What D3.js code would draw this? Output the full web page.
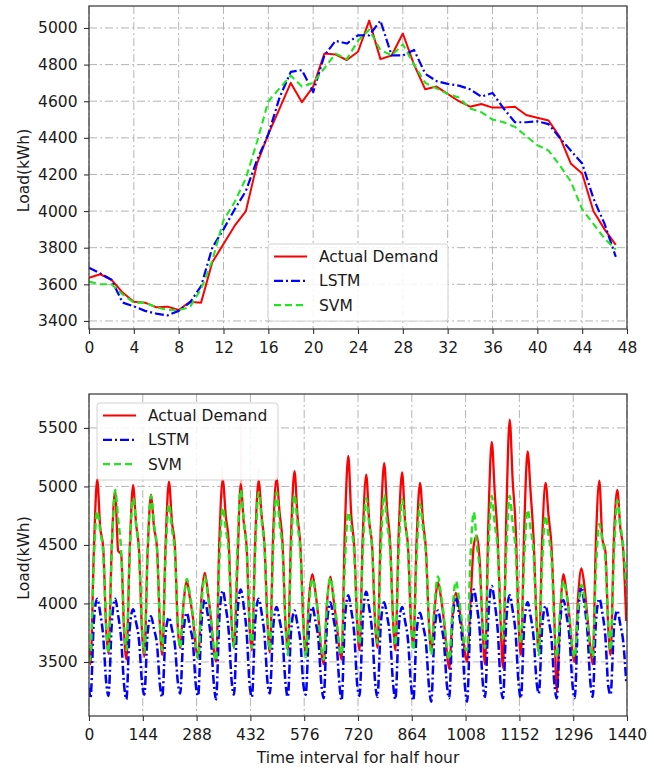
<!DOCTYPE html>
<html>
<head>
<meta charset="utf-8">
<script src="https://cdn.jsdelivr.net/npm/d3@7"></script>
<style>
  body { margin: 0; background: #fff; }
  svg { font-family: "DejaVu Sans", sans-serif; }
</style>
</head>
<body>
<svg id="chart" width="654" height="768"></svg>
<script>
// ---- top panel: one day, 48 half-hour values ----
const dayActual = [3635, 3655, 3625, 3555, 3505, 3500, 3475, 3478, 3460, 3505, 3500, 3720,
  3820, 3920, 4000, 4260, 4420, 4560, 4700, 4595, 4680, 4860, 4855, 4825,
  4870, 5040, 4830, 4850, 4970, 4800, 4665, 4680, 4640, 4600, 4570, 4585,
  4565, 4565, 4570, 4525, 4510, 4495, 4405, 4258, 4205, 4000, 3900, 3815];
const dayLSTM = [3690, 3660, 3625, 3500, 3480, 3455, 3440, 3430, 3455, 3500, 3590, 3800,
  3900, 4010, 4110, 4280, 4420, 4620, 4760, 4770, 4650, 4850, 4930, 4915,
  4960, 4960, 5040, 4850, 4850, 4880, 4750, 4710, 4695, 4685, 4665, 4625,
  4645, 4560, 4485, 4485, 4490, 4475, 4400, 4330, 4260, 4070, 3930, 3750];
const daySVM = [3615, 3600, 3600, 3545, 3500, 3500, 3475, 3460, 3460, 3475, 3575, 3730,
  3950, 4050, 4180, 4380, 4600, 4670, 4740, 4680, 4700, 4780, 4860, 4830,
  4930, 4990, 4880, 4850, 4910, 4800, 4700, 4670, 4640, 4620, 4560, 4540,
  4500, 4485, 4460, 4410, 4360, 4330, 4250, 4160, 4010, 3930, 3850, 3790];

// ---- bottom panel: 30 days, key values at these half-hour offsets in each day ----
const keyOffsets = [4, 13, 22, 30, 38, 46];
const startValues = [3620, 3280, 3500]; // value at interval 0: actual, LSTM, SVM

const monthActual = [
  [3480, 4450, 5060, 4650, 4480, 3780], [3570, 4500, 4960, 4450, 4420, 3750],
  [3520, 4450, 5010, 4680, 4450, 3750], [3545, 4450, 4930, 4650, 4480, 3800],
  [3560, 4500, 5040, 4700, 4480, 3780], [3620, 4000, 4190, 4050, 3880, 3620],
  [3530, 4050, 4260, 4100, 3880, 3600], [3500, 4550, 5060, 4750, 4520, 3820],
  [3620, 4300, 5020, 4700, 4480, 3780], [3600, 4550, 5050, 4750, 4480, 3820],
  [3580, 4600, 5070, 4780, 4520, 3820], [3600, 4600, 5130, 4750, 4480, 3820],
  [3560, 4050, 4250, 4100, 3880, 3580], [3480, 4000, 4230, 4050, 3850, 3620],
  [3520, 4650, 5260, 4750, 4480, 3820], [3600, 4600, 5100, 4700, 4480, 3820],
  [3620, 4650, 5200, 4800, 4520, 3850], [3600, 4600, 5120, 4700, 4480, 3820],
  [3640, 4550, 5030, 4700, 4450, 3820], [3600, 3950, 4180, 4050, 3850, 3580],
  [3440, 3900, 4090, 3980, 3800, 3580], [3500, 4000, 4500, 4580, 4350, 3750],
  [3480, 4700, 5380, 4950, 4550, 3820], [3450, 4750, 5570, 5050, 4650, 3820],
  [3560, 4650, 5300, 4950, 4550, 3850], [3580, 4550, 5030, 4750, 4480, 3820],
  [3250, 3900, 4250, 4100, 3880, 3580], [3500, 4050, 4300, 4150, 3880, 3620],
  [3480, 4550, 5050, 4550, 4450, 3780], [3560, 4550, 4970, 4650, 4450, 3850]
];
const monthLSTM = [
  [3190, 3850, 4040, 3920, 3720, 3330], [3210, 3830, 4040, 3900, 3700, 3300],
  [3180, 3790, 3950, 3840, 3680, 3320], [3220, 3750, 3890, 3780, 3650, 3300],
  [3200, 3740, 3880, 3780, 3640, 3320], [3230, 3760, 3920, 3800, 3670, 3300],
  [3210, 3830, 4030, 3900, 3710, 3320], [3180, 3880, 4110, 3970, 3760, 3330],
  [3220, 3900, 4120, 3980, 3750, 3300], [3200, 3850, 4040, 3920, 3720, 3320],
  [3230, 3800, 3970, 3860, 3690, 3320], [3200, 3770, 3940, 3820, 3670, 3300],
  [3220, 3790, 3970, 3850, 3690, 3310], [3190, 3820, 4010, 3880, 3700, 3320],
  [3170, 3870, 4070, 3940, 3740, 3300], [3210, 3880, 4100, 3960, 3750, 3320],
  [3200, 3820, 4010, 3890, 3710, 3310], [3180, 3790, 3970, 3850, 3680, 3300],
  [3170, 3760, 3920, 3810, 3660, 3290], [3160, 3770, 3940, 3820, 3670, 3300],
  [3190, 3850, 4050, 3920, 3720, 3300], [3160, 3880, 4120, 3980, 3760, 3320],
  [3200, 3900, 4150, 4000, 3770, 3300], [3190, 3860, 4070, 3940, 3740, 3310],
  [3190, 3820, 4010, 3890, 3710, 3330], [3230, 3800, 3980, 3860, 3690, 3300],
  [3190, 3830, 4030, 3900, 3710, 3310], [3190, 3880, 4140, 3990, 3760, 3320],
  [3200, 3850, 4040, 3920, 3720, 3290], [3220, 3780, 3940, 3820, 3670, 3330]
];
const monthSVM = [
  [3550, 4380, 4790, 4620, 4420, 3820], [3580, 4450, 4970, 4720, 4450, 3820],
  [3600, 4450, 4900, 4680, 4420, 3800], [3580, 4450, 4920, 4680, 4450, 3820],
  [3600, 4400, 4850, 4640, 4420, 3800], [3620, 4000, 4210, 4080, 3900, 3660],
  [3530, 4000, 4230, 4080, 3880, 3620], [3510, 4350, 4820, 4640, 4420, 3820],
  [3620, 4450, 4970, 4720, 4450, 3820], [3620, 4450, 4950, 4720, 4450, 3820],
  [3600, 4450, 4950, 4680, 4450, 3820], [3560, 4450, 4930, 4680, 4420, 3800],
  [3540, 4000, 4210, 4080, 3880, 3620], [3520, 4000, 4220, 4080, 3880, 3640],
  [3560, 4350, 4780, 4640, 4420, 3820], [3650, 4450, 4900, 4680, 4450, 3860],
  [3660, 4450, 4930, 4680, 4450, 3860], [3640, 4450, 4890, 4680, 4450, 3840],
  [3600, 4400, 4850, 4640, 4420, 3820], [3560, 4000, 4230, 4080, 3880, 3620],
  [3520, 3950, 4190, 4050, 3850, 3620], [3600, 4400, 4780, 4500, 4280, 3780],
  [3620, 4450, 4920, 4680, 4450, 3860], [3700, 4450, 4920, 4680, 4450, 3860],
  [3660, 4400, 4800, 4640, 4420, 3820], [3560, 4350, 4750, 4580, 4380, 3780],
  [3540, 3950, 4190, 4080, 3880, 3620], [3540, 3950, 4160, 4050, 3850, 3620],
  [3540, 4300, 4680, 4540, 4380, 3820], [3600, 4400, 4880, 4680, 4480, 4150]
];
// thin single-interval spikes of the actual demand: [interval, base, top]
const actualSpikes = [[356, 4900, 5170], [407, 4950, 5660], [454, 4950, 5170], [502, 5000, 5250]];

const seriesNames = ["Actual Demand", "LSTM", "SVM"];
const topTicksX = d3.range(0, 49, 4);
const topTicksY = d3.range(3400, 5001, 200);
const botTicksX = d3.range(0, 1441, 144);
const botTicksY = [3500, 4000, 4500, 5000, 5500];

const styles = [
  { color: "#ff0000", dash: null, width: 2 },
  { color: "#0000ff", dash: "9,3,2,3", width: 2.2 },
  { color: "#1fe61f", dash: "7,4", width: 2.1 },
];

const svg = d3.select("#chart");
svg.append("rect").attr("width", 654).attr("height", 768).attr("fill", "#fff");

function panel(cfg) {
  const x = d3.scaleLinear().domain(cfg.xDomain).range([89, 627]);
  const y = d3.scaleLinear().domain(cfg.yDomain).range([cfg.bottom, cfg.top]);
  const g = svg.append("g");

  // grid
  g.append("g").selectAll("line").data(cfg.ticksY).join("line")
    .attr("x1", 89).attr("x2", 627)
    .attr("y1", d => y(d)).attr("y2", d => y(d))
    .attr("stroke", "#b4b4b4").attr("stroke-width", 1).attr("stroke-dasharray", "8,3,2,3");
  g.append("g").selectAll("line").data(cfg.ticksX).join("line")
    .attr("y1", cfg.top).attr("y2", cfg.bottom)
    .attr("x1", d => x(d)).attr("x2", d => x(d))
    .attr("stroke", "#b4b4b4").attr("stroke-width", 1).attr("stroke-dasharray", "8,3,2,3");

  const clipId = "clip" + cfg.id;
  svg.append("clipPath").attr("id", clipId).append("rect")
    .attr("x", 89).attr("y", cfg.top).attr("width", 538).attr("height", cfg.bottom - cfg.top);

  const lines = g.append("g").attr("clip-path", `url(#${clipId})`);
  if (cfg.spikes) {
    lines.selectAll(".spike").data(cfg.spikes).join("path")
      .attr("class", "spike")
      .attr("d", d => `M${x(d[0] - 1.5)},${y(d[1])}L${x(d[0])},${y(d[2])}L${x(d[0] + 1.5)},${y(d[1])}`)
      .attr("fill", "none").attr("stroke", "#ff0000").attr("stroke-opacity", 0.3).attr("stroke-width", 1.4);
  }
  const line = d3.line().x(d => x(d[0])).y(d => y(d[1])).curve(cfg.curve);
  cfg.series.forEach((pts, i) => {
    lines.append("path").datum(pts)
      .attr("d", line)
      .attr("fill", "none")
      .attr("stroke", styles[i].color)
      .attr("stroke-width", styles[i].width * cfg.lw)
      .attr("stroke-dasharray", styles[i].dash)
      .attr("stroke-linejoin", "round");
  });

  // axes
  const ax = g.append("g").attr("transform", `translate(0,${cfg.bottom})`)
    .call(d3.axisBottom(x).tickValues(cfg.ticksX).tickFormat(d3.format("d"))
      .tickSize(5).tickPadding(8).tickSizeOuter(0));
  const ay = g.append("g").attr("transform", "translate(89,0)")
    .call(d3.axisLeft(y).tickValues(cfg.ticksY).tickFormat(d3.format("d"))
      .tickSize(5).tickPadding(6.5).tickSizeOuter(0));
  [ax, ay].forEach(a => {
    a.select(".domain").remove();
    a.selectAll("line").attr("stroke", "#333").attr("stroke-width", 1.1);
    a.selectAll("text").attr("fill", "#1a1a1a").style("font-size", "15.5px")
      .style("font-family", "DejaVu Sans, sans-serif");
  });

  // frame
  g.append("rect").attr("x", 89).attr("y", cfg.top).attr("width", 538).attr("height", cfg.bottom - cfg.top)
    .attr("fill", "none").attr("stroke", "#333").attr("stroke-width", 1.2);

  // y label
  g.append("text")
    .attr("transform", `translate(28.5,${(cfg.top + cfg.bottom) / 2 + 3}) rotate(-90)`)
    .attr("text-anchor", "middle").style("font-size", "15.5px").attr("fill", "#1a1a1a")
    .text("Load(kWh)");

  // legend
  const lg = g.append("g").attr("transform", `translate(${cfg.legend[0]},${cfg.legend[1]})`);
  lg.append("rect").attr("x", 0).attr("y", 0).attr("width", cfg.legend[2]).attr("height", 77)
    .attr("rx", 3).attr("fill", "#fff").attr("fill-opacity", 0.85)
    .attr("stroke", "#d2d2d2").attr("stroke-width", 1);
  seriesNames.forEach((name, i) => {
    const cy = 12.5 + i * 24.3;
    lg.append("line").attr("x1", 6).attr("x2", 39).attr("y1", cy).attr("y2", cy)
      .attr("stroke", styles[i].color).attr("stroke-width", styles[i].width)
      .attr("stroke-dasharray", styles[i].dash);
    lg.append("text").attr("x", 51).attr("y", cy + 5.5)
      .style("font-size", "15.5px").attr("fill", "#1a1a1a").text(name);
  });
  return { x, y };
}

// top panel data
const topSeries = [dayActual, dayLSTM, daySVM].map(arr => arr.map((v, i) => [i, v]));
panel({
  id: "top", top: 6, bottom: 329, xDomain: [0, 48], yDomain: [3356, 5120],
  ticksX: topTicksX, ticksY: topTicksY, series: topSeries, curve: d3.curveLinear,
  legend: [268, 244, 180], lw: 1
});

// bottom panel data
const botSeries = [monthActual, monthLSTM, monthSVM].map((rows, s) => {
  const pts = [[0, startValues[s]]];
  rows.forEach((row, day) => row.forEach((v, k) => pts.push([day * 48 + keyOffsets[k], v])));
  return pts;
});
panel({
  id: "bot", top: 394, bottom: 716, xDomain: [0, 1440], yDomain: [3038, 5790],
  ticksX: botTicksX, ticksY: botTicksY, series: botSeries, curve: d3.curveMonotoneX,
  spikes: actualSpikes, legend: [97, 403, 181], lw: 1.15
});

svg.append("text").attr("x", 358).attr("y", 762.5).attr("text-anchor", "middle")
  .style("font-size", "15.5px").attr("fill", "#1a1a1a").text("Time interval for half hour");
</script>
</body>
</html>
